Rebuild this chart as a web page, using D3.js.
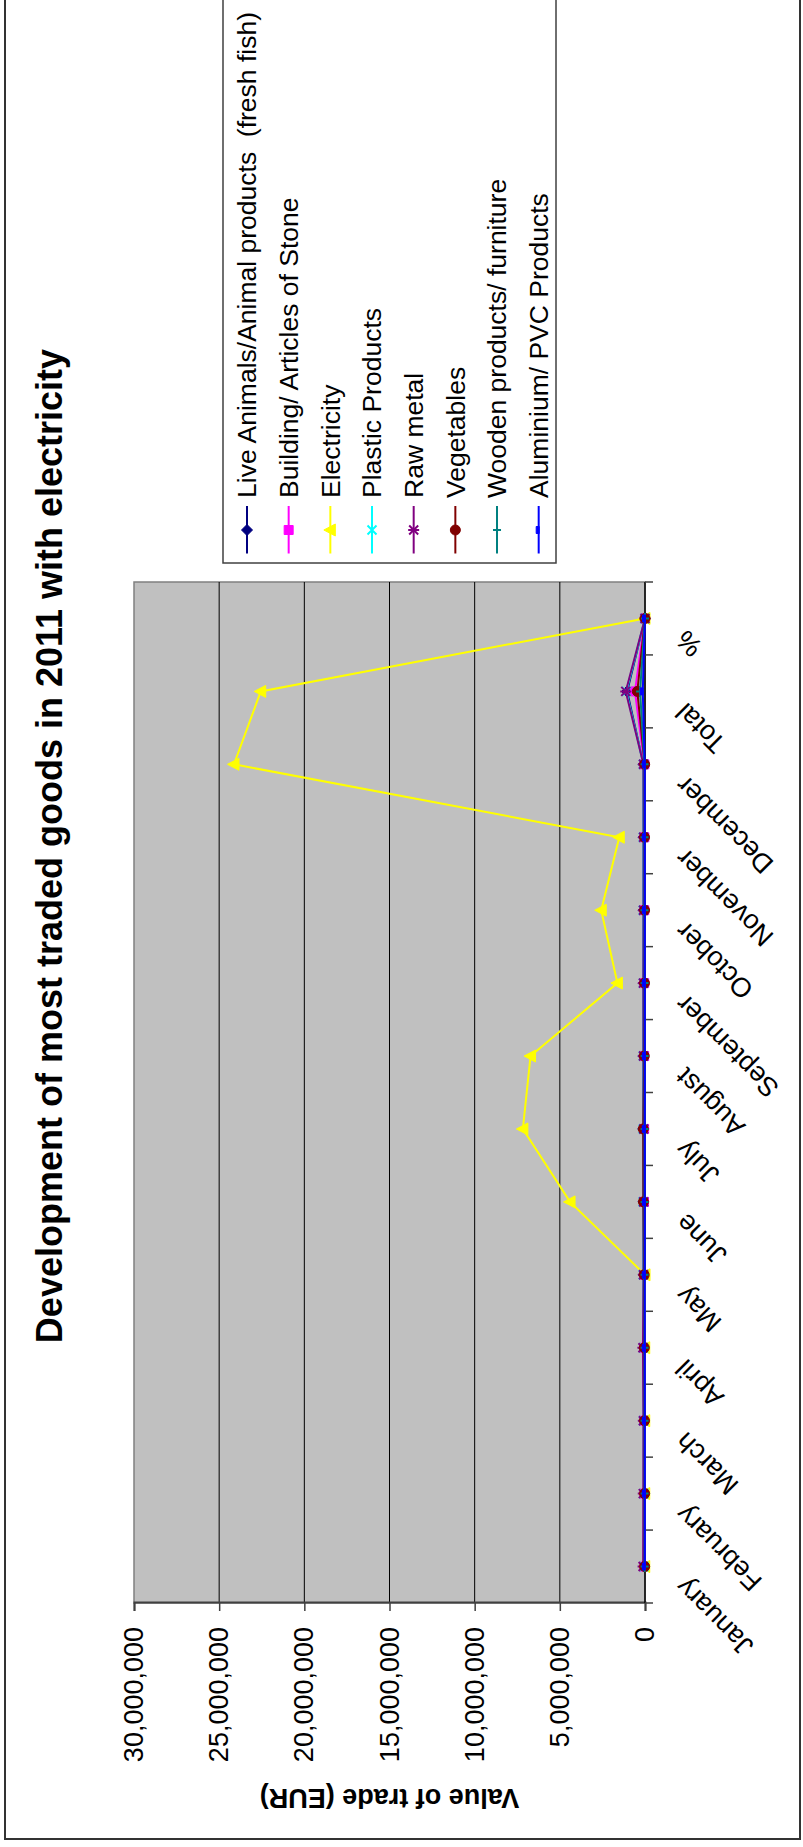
<!DOCTYPE html>
<html>
<head>
<meta charset="utf-8">
<script src="https://cdn.jsdelivr.net/npm/d3@7"></script>
<style>
body { margin: 0; background: #fff; }
text { font-family: "Liberation Sans", Arial, sans-serif; fill: #000; }
</style>
</head>
<body>
<script>
// #region DATA
var categories = ["January", "February", "March", "April", "May", "June", "July",
    "August", "September", "October", "November", "December", "Total", "%"];

var seriesNames = ["Live Animals/Animal products  (fresh fish)", "Building/ Articles of Stone",
    "Electricity", "Plastic Products", "Raw metal", "Vegetables",
    "Wooden products/ furniture", "Aluminium/ PVC Products"];

var liveAnimals = [55000, 48000, 60000, 70000, 82000, 95000, 105000, 98000, 90000, 85000, 80000, 90000, 1050000, 3.8];
var building    = [30000, 32000, 45000, 55000, 60000, 58000, 52000, 50000, 48000, 45000, 40000, 35000, 590000, 2.2];
var electricity = [15000, 15000, 15000, 15000, 0, 4400000, 7170000, 6720000, 1620000, 2570000, 1510000, 24130000, 22560000, 82.6];
var plastic     = [70000, 75000, 85000, 95000, 100000, 105000, 100000, 95000, 90000, 100000, 95000, 90000, 1100000, 4.0];
var rawMetal    = [110000, 100000, 95000, 120000, 90000, 85000, 80000, 90000, 95000, 90000, 85000, 90000, 1130000, 4.1];
var vegetables  = [20000, 25000, 30000, 40000, 50000, 90000, 100000, 45000, 30000, 25000, 30000, 20000, 450000, 1.6];
var wooden      = [20000, 22000, 25000, 25000, 24000, 25000, 22000, 20000, 25000, 30000, 28000, 25000, 290000, 1.1];
var aluminium   = [8000, 9000, 10000, 11000, 12000, 11000, 12000, 10000, 12000, 11000, 12000, 12000, 130000, 0.5];

var valueTicks = [0, 5000000, 10000000, 15000000, 20000000, 25000000, 30000000];
// #endregion

var seriesValues = [liveAnimals, building, electricity, plastic, rawMetal, vegetables, wooden, aluminium];
var seriesColors = ["#000080", "#ff00ff", "#ffff00", "#00ffff", "#800080", "#800000", "#008080", "#0000ff"];
var seriesMarkers = ["diamond", "square", "triangle", "x", "star", "circle", "plus", "dash"];

var W = 803, H = 1847;

var svg = d3.select("body")
    .append("svg")
    .attr("width", W)
    .attr("height", H);

// outer chart frame
svg.append("rect")
    .attr("x", 5).attr("y", -5)
    .attr("width", 795).attr("height", 1844)
    .attr("fill", "none")
    .attr("stroke", "#333")
    .attr("stroke-width", 2);

// the whole chart is lying on its side: draw it upright and turn it
var chart = svg.append("g")
    .attr("transform", "translate(0," + H + ") rotate(-90)");

var x = d3.scaleBand()
    .domain(categories)
    .range([244, 1265]);

var y = d3.scaleLinear()
    .domain([0, 30000000])
    .range([645, 134]);

var bw = x.bandwidth();

// #region PLOT AREA
chart.append("rect")
    .attr("x", x.range()[0])
    .attr("y", y(30000000))
    .attr("width", x.range()[1] - x.range()[0])
    .attr("height", y(0) - y(30000000))
    .attr("fill", "#c0c0c0")
    .attr("stroke", "#808080")
    .attr("stroke-width", 1.5);

// gridlines
chart.append("g")
    .selectAll("line")
    .data(valueTicks.filter(d => d > 0 && d < 30000000))
    .enter()
    .append("line")
        .attr("x1", x.range()[0])
        .attr("x2", x.range()[1])
        .attr("y1", d => y(d))
        .attr("y2", d => y(d))
        .attr("stroke", "#000")
        .attr("stroke-width", 1);

// value axis
var yAxis = chart.append("g")
    .attr("transform", "translate(" + x.range()[0] + ",0)")
    .call(d3.axisLeft(y)
        .tickValues(valueTicks)
        .tickFormat(d3.format(","))
        .tickSize(8)
        .tickPadding(16));

yAxis.select(".domain").attr("stroke", "#404040").attr("stroke-width", 2);
yAxis.selectAll(".tick line").attr("stroke", "#404040").attr("stroke-width", 1.5);
yAxis.selectAll("text")
    .style("font-size", "27px")
    .style("font-family", "'Liberation Sans', Arial, sans-serif")
    .attr("fill", "#000");

// category axis
chart.append("line")
    .attr("x1", x.range()[0])
    .attr("x2", x.range()[1])
    .attr("y1", y(0))
    .attr("y2", y(0))
    .attr("stroke", "#000")
    .attr("stroke-width", 1.5);

chart.append("g")
    .selectAll("line")
    .data(d3.range(categories.length + 1))
    .enter()
    .append("line")
        .attr("x1", i => x.range()[0] + i * x.step())
        .attr("x2", i => x.range()[0] + i * x.step())
        .attr("y1", y(0))
        .attr("y2", y(0) + 8)
        .attr("stroke", "#404040")
        .attr("stroke-width", 1.5);

chart.append("g")
    .selectAll("text")
    .data(categories)
    .enter()
    .append("text")
        .text(d => d)
        .attr("transform", d => "translate(" + (x(d) + bw / 2 - 10) + "," + (y(0) + 42) + ") rotate(-45)")
        .attr("text-anchor", "end")
        .style("font-size", "27px");
// #endregion

// #region SERIES
function markerPath(type) {
    switch (type) {
        case "diamond": return "M0,-5.5L5.5,0L0,5.5L-5.5,0Z";
        case "square": return "M-4.5,-4.5H4.5V4.5H-4.5Z";
        case "triangle": return "M0,-6.5L6,5L-6,5Z";
        case "x": return "M-4.5,-4.5L4.5,4.5M-4.5,4.5L4.5,-4.5";
        case "star": return "M-4.5,-4.5L4.5,4.5M-4.5,4.5L4.5,-4.5M0,-5.5L0,5.5";
        case "circle": return "M5,0A5,5 0 1,1 -5,0A5,5 0 1,1 5,0Z";
        case "plus": return "M-5.5,0L5.5,0M0,-4L0,4";
        case "dash": return "M-3.5,-2.5H3.5V0.5H-3.5Z";
    }
}
var filledMarker = { diamond: true, square: true, triangle: true, circle: true, dash: true };

function drawMarker(sel, type, color) {
    sel.append("path")
        .attr("d", markerPath(type))
        .attr("fill", filledMarker[type] ? color : "none")
        .attr("stroke", color)
        .attr("stroke-width", filledMarker[type] ? 1 : 2);
}

var line = d3.line()
    .x(d => x(d.cat) + bw / 2)
    .y(d => y(d.v));

seriesValues.forEach(function(vals, s) {
    var pts = categories.map((c, i) => ({cat: c, v: vals[i]}));
    var g = chart.append("g").attr("class", "series");

    g.append("path")
        .datum(pts)
        .attr("d", line)
        .attr("fill", "none")
        .attr("stroke", seriesColors[s])
        .attr("stroke-width", 2);

    g.selectAll("g.pt")
        .data(pts)
        .enter()
        .append("g")
            .attr("class", "pt")
            .attr("transform", d => "translate(" + (x(d.cat) + bw / 2) + "," + y(d.v) + ")")
            .each(function() { drawMarker(d3.select(this), seriesMarkers[s], seriesColors[s]); });
});
// #endregion

// #region TITLES
chart.append("text")
    .text("Development of most traded goods in 2011 with electricity")
    .attr("x", 1001)
    .attr("y", 62)
    .attr("text-anchor", "middle")
    .style("font-size", "36px")
    .style("font-weight", "bold");

chart.append("text")
    .text("Value of trade (EUR)")
    .attr("transform", "translate(58," + ((y(0) + y(30000000)) / 2) + ") rotate(-90)")
    .attr("text-anchor", "middle")
    .style("font-size", "27px")
    .style("font-weight", "bold");
// #endregion

// #region LEGEND
var legend = chart.append("g").attr("id", "legend");

legend.append("rect")
    .attr("x", 1284).attr("y", 223)
    .attr("width", 580).attr("height", 333)
    .attr("fill", "#fff")
    .attr("stroke", "#404040")
    .attr("stroke-width", 1.5);

var rowStep = 41.67;
var rows = legend.selectAll("g.row")
    .data(seriesNames)
    .enter()
    .append("g")
        .attr("class", "row")
        .attr("transform", (d, i) => "translate(1317," + (247 + i * rowStep) + ")");

rows.append("line")
    .attr("x1", -23.5).attr("x2", 24)
    .attr("y1", 0).attr("y2", 0)
    .attr("stroke", (d, i) => seriesColors[i])
    .attr("stroke-width", 2);

rows.each(function(d, i) { drawMarker(d3.select(this), seriesMarkers[i], seriesColors[i]); });

rows.append("text")
    .text(d => d)
    .attr("x", 32)
    .attr("dy", "0.35em")
    .style("font-size", "26.5px")
    .style("white-space", "pre");
// #endregion
</script>
</body>
</html>
